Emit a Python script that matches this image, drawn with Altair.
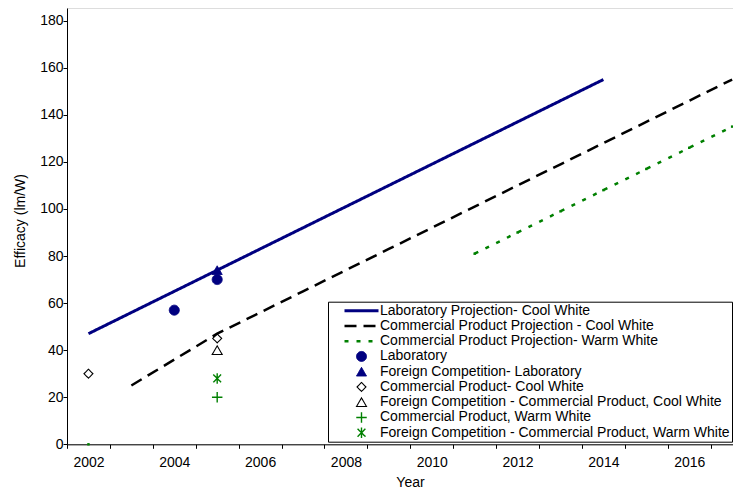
import altair as alt
import pandas as pd

# ---------------- data ----------------
series_names = [
    "Laboratory Projection- Cool White",
    "Commercial Product Projection - Cool White",
    "Commercial Product Projection- Warm White",
    "Laboratory",
    "Foreign Competition- Laboratory",
    "Commercial Product- Cool White",
    "Foreign Competition - Commercial Product, Cool White",
    "Commercial Product, Warm White",
    "Foreign Competition - Commercial Product, Warm White",
]

lab_proj_years = [2002, 2003, 2004, 2005, 2006, 2007, 2008, 2009, 2010, 2011, 2012, 2013, 2014]
lab_proj_values = [47, 56, 65, 74, 83, 92, 101, 110, 119, 128, 137, 146, 155]

comm_proj_years = [2003, 2004, 2005, 2006, 2007, 2008, 2009, 2010, 2011, 2012, 2013, 2014, 2015, 2016, 2017]
comm_proj_values = [25, 36, 47, 56, 65, 74, 83, 92, 101, 110, 119, 128, 137, 146, 155]

warm_proj_years = [2011, 2012, 2013, 2014, 2015, 2016, 2017]
warm_proj_values = [81, 90, 99, 108, 117, 126, 135]

warm_marker_years = [2002, 2011, 2012, 2013, 2014, 2015, 2016, 2017]
warm_marker_values = [0, 81, 90, 99, 108, 117, 126, 135]

lab_years = [2004, 2005]
lab_values = [57, 70]
foreign_lab_years = [2005]
foreign_lab_values = [74]
comm_cool_years = [2002, 2005]
comm_cool_values = [30, 45]
foreign_comm_cool_years = [2005]
foreign_comm_cool_values = [40]
comm_warm_years = [2005]
comm_warm_values = [20]
foreign_comm_warm_years = [2005]
foreign_comm_warm_values = [28]

x_tick_positions = [2001.5, 2002.5, 2003.5, 2004.5, 2005.5, 2006.5, 2007.5, 2008.5,
                    2009.5, 2010.5, 2011.5, 2012.5, 2013.5, 2014.5, 2015.5, 2016.5]
x_label_years = [2002, 2004, 2006, 2008, 2010, 2012, 2014, 2016]
y_ticks = [0, 20, 40, 60, 80, 100, 120, 140, 160, 180]

# ---------------- tables ----------------
line_rows = []
for name, ys, vs in [
    (series_names[0], lab_proj_years, lab_proj_values),
    (series_names[1], comm_proj_years, comm_proj_values),
    (series_names[2], warm_proj_years, warm_proj_values),
]:
    for yv, vv in zip(ys, vs):
        line_rows.append({"series": name, "year": yv, "value": vv})
lines_df = pd.DataFrame(line_rows)

point_rows = []
for name, ys, vs in [
    (series_names[3], lab_years, lab_values),
    (series_names[4], foreign_lab_years, foreign_lab_values),
    (series_names[5], comm_cool_years, comm_cool_values),
    (series_names[6], foreign_comm_cool_years, foreign_comm_cool_values),
    (series_names[7], comm_warm_years, comm_warm_values),
    (series_names[8], foreign_comm_warm_years, foreign_comm_warm_values),
]:
    for yv, vv in zip(ys, vs):
        point_rows.append({"series": name, "year": yv, "value": vv})
points_df = pd.DataFrame(point_rows)

markers_df = pd.DataFrame({"year": warm_marker_years, "value": warm_marker_values})

# ---------------- styles ----------------
NAVY = "#000080"
GREEN = "#008000"
BLACK = "#000000"
plus_path = "M-1,0L1,0M0,-1L0,1"
aster_path = "M0,-1L0,1M-0.75,-0.75L0.75,0.75M-0.75,0.75L0.75,-0.75"

stroke_range = [NAVY, BLACK, GREEN, NAVY, NAVY, BLACK, BLACK, GREEN, GREEN]
fill_range = ["transparent", "transparent", "transparent", NAVY, NAVY,
              "transparent", "transparent", "transparent", "transparent"]
shape_range = ["stroke", "stroke", "stroke", "circle", "triangle-up", "diamond",
               "triangle-up", plus_path, aster_path]
size_range = [1156, 1156, 1156, 100, 100, 80, 100, 110, 110]
dash_range = [[1, 0], [12, 7], [4, 8], [1, 0], [1, 0], [1, 0], [1, 0], [1, 0], [1, 0]]
width_range = [3, 2.5, 2.5, 1, 1, 1.1, 1.1, 1.4, 1.4]

legend = alt.Legend(
    title=None,
    orient="none",
    legendX=261,
    legendY=293.7,
    strokeColor="black",
    fillColor="white",
    padding=1.5,
    clipHeight=15,
    rowPadding=0.25,
    symbolOffset=13.5,
    labelOffset=0,
    labelFontSize=14,
    labelFont="Liberation Sans",
    labelColor="black",
    labelLimit=0,
)

x_enc = alt.X(
    "year:Q",
    scale=alt.Scale(domain=[2001.5, 2017.02], nice=False, zero=False),
    axis=alt.Axis(
        values=sorted(x_tick_positions + x_label_years),
        labelExpr="datum.value % 2 === 0 ? format(datum.value, 'd') : ''",
        tickOpacity={"condition": {"test": "datum.value % 1 === 0", "value": 0}, "value": 1},
        labelOverlap=False,
        labelFlush=False,
        title="Year",
        titleX=343,
        titleY=42.5,
        titleBaseline="alphabetic",
        labelPadding=7,
    ),
)
y_enc = alt.Y(
    "value:Q",
    scale=alt.Scale(domain=[0, 185.4], nice=False),
    axis=alt.Axis(
        values=y_ticks,
        title="Efficacy (lm/W)",
        titleX=-43,
        titleY=212.5,
        titleBaseline="alphabetic",
        labelPadding=0,
    ),
)

stroke_enc = alt.Stroke("series:N", scale=alt.Scale(domain=series_names, range=stroke_range), legend=legend)
dash_enc = alt.StrokeDash("series:N", scale=alt.Scale(domain=series_names, range=dash_range), legend=legend)
width_enc = alt.StrokeWidth("series:N", scale=alt.Scale(type="ordinal", domain=series_names, range=width_range), legend=legend)

lines = alt.Chart(lines_df).mark_line(strokeCap="butt").encode(
    x=x_enc, y=y_enc, stroke=stroke_enc, strokeDash=dash_enc, strokeWidth=width_enc,
)

markers = alt.Chart(markers_df).mark_point(shape="square", size=6, filled=True, color=GREEN, opacity=1).encode(
    x=x_enc, y=y_enc,
)

points = alt.Chart(points_df).mark_point(opacity=1).encode(
    x=x_enc,
    y=y_enc,
    stroke=stroke_enc,
    fill=alt.Fill("series:N", scale=alt.Scale(domain=series_names, range=fill_range), legend=legend),
    shape=alt.Shape("series:N", scale=alt.Scale(domain=series_names, range=shape_range), legend=legend),
    size=alt.Size("series:N", scale=alt.Scale(type="ordinal", domain=series_names, range=size_range), legend=legend),
    strokeDash=dash_enc,
    strokeWidth=width_enc,
)

chart = (
    alt.layer(lines, markers, points)
    .properties(
        width=666,
        height=436.3,
        autosize=alt.AutoSizeParams(type="none"),
        padding={"left": 59, "top": 0, "right": 0, "bottom": 44.7},
    )
    .configure_view(stroke=None)
    .configure(font="Liberation Sans")
    .configure_axis(
        grid=False,
        domainColor="#000000",
        tickColor="#000000",
        tickSize=4,
        labelColor="#000000",
        labelFontSize=14,
        labelFont="Liberation Sans",
        titleFontSize=14,
        titleFont="Liberation Sans",
        titleFontWeight="normal",
        titleColor="#000000",
    )
)

chart.save("out.html", embed_options={"renderer": "svg", "actions": False})
